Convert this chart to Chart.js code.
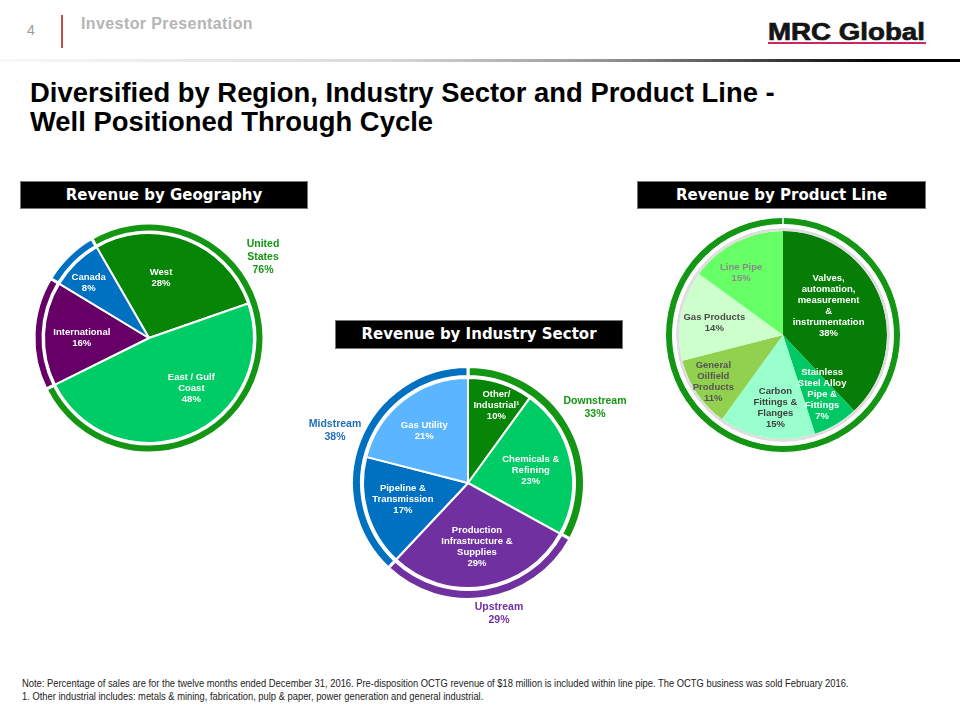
<!DOCTYPE html>
<html>
<head>
<meta charset="utf-8">
<script src="https://cdn.jsdelivr.net/npm/chart.js@4"></script>
<style>
body { margin: 0; width: 960px; height: 720px; position: relative; background: #fff; overflow: hidden;
       font-family: "Liberation Sans", Arial, sans-serif; }
.abs { position: absolute; white-space: nowrap; }
.box { position: absolute; background: #000; color: #fff; text-align: center; border: 1px solid #777; box-sizing: border-box;
       font: bold 15px "DejaVu Sans", Verdana, sans-serif; line-height: 27px; }
.title { position: absolute; left: 30px; font-weight: bold; font-size: 27px; color: #000; transform: scaleX(1.015); transform-origin: left; white-space: nowrap; }
.ring { position: absolute; width: 120px; text-align: center; font-weight: bold; font-size: 10.5px; line-height: 13px; }
canvas { position: absolute; }
</style>
</head>
<body>

<div class="abs" style="left:27px;top:22px;font-size:14px;color:#9a9a9a">4</div>
<div class="abs" style="left:61px;top:15px;width:1.5px;height:33px;background:#c0504d"></div>
<div class="abs" style="left:81px;top:15px;font-size:16px;letter-spacing:0.4px;font-weight:bold;color:#b5b5b5">Investor Presentation</div>
<div class="abs" style="left:768px;top:18px;font-size:24.5px;font-weight:bold;color:#141414;-webkit-text-stroke:0.7px #141414;transform:scaleX(1.13);transform-origin:left">MRC Global</div>
<div class="abs" style="left:768px;top:42px;width:158px;height:2px;background:#c8285a"></div>
<div class="abs" style="left:0;top:59px;width:960px;height:3px;background:linear-gradient(to right,#f8f8f8,#dadada 40%,#959595 63%,#353535 82%,#000 92%)"></div>

<div class="title" style="top:78px">Diversified by Region, Industry Sector and Product Line -</div>
<div class="title" style="top:107px">Well Positioned Through Cycle</div>

<div class="box" style="left:20px;top:181px;width:288px;height:28px">Revenue by Geography</div>
<div class="box" style="left:335px;top:320px;width:288px;height:29px">Revenue by Industry Sector</div>
<div class="box" style="left:637px;top:181px;width:289px;height:28px">Revenue by Product Line</div>

<canvas id="geoChart" width="250" height="250" style="left:24px;top:213px"></canvas>
<canvas id="sectorChart" width="250" height="250" style="left:343px;top:358px"></canvas>
<canvas id="productChart" width="250" height="250" style="left:658px;top:210px"></canvas>

<div id="geoRingLabel" class="ring" style="left:203px;top:237px;color:#139613"></div>
<div id="downLabel" class="ring" style="left:535px;top:394px;color:#139613"></div>
<div id="midLabel" class="ring" style="left:275px;top:417px;color:#1f6fb5"></div>
<div id="upLabel" class="ring" style="left:439px;top:600px;color:#7030a0"></div>

<div class="abs" style="left:22px;top:677px;font-size:10.5px;line-height:13px;color:#222;transform:scaleX(0.892);transform-origin:left">Note: Percentage of sales are for the twelve months ended December 31, 2016. Pre-disposition OCTG revenue of $18 million is included within line pipe. The OCTG business was sold February 2016.<br>1. Other industrial includes: metals &amp; mining, fabrication, pulp &amp; paper, power generation and general industrial.</div>

<script>
// 地域別
const geoLabels = ["West", "East / Gulf\nCoast", "International", "Canada"];
const geoValues = [28, 48, 16, 8];
const geoColors = ["#078507", "#00cc66", "#660066", "#0070c0"];
const geoRingLabels = ["United\nStates", "International", "Canada"];
const geoRingValues = [76, 16, 8];
const geoRingColors = ["#139613", "#660066", "#0070c0"];

// 業種別
const sectorLabels = ["Other/\nIndustrial\u00b9", "Chemicals &\nRefining", "Production\nInfrastructure &\nSupplies", "Pipeline &\nTransmission", "Gas Utility"];
const sectorValues = [10, 23, 29, 17, 21];
const sectorColors = ["#078507", "#00cc66", "#7030a0", "#0070c0", "#5cb6ff"];
const sectorRingLabels = ["Downstream", "Upstream", "Midstream"];
const sectorRingValues = [33, 29, 38];
const sectorRingColors = ["#139613", "#7030a0", "#0070c0"];

// 製品ライン別
const productLabels = ["Valves,\nautomation,\nmeasurement\n&\ninstrumentation", "Stainless\nSteel Alloy\nPipe &\nFittings", "Carbon\nFittings &\nFlanges", "General\nOilfield\nProducts", "Gas Products", "Line Pipe"];
const productValues = [38, 7, 15, 11, 14, 15];
const productColors = ["#067d06", "#00c864", "#99ffcc", "#92d050", "#ccffcc", "#66ff66"];
const productTextColors = ["#fff", "#fff", "#404040", "#555", "#4a4a4a", "#8a8a8a"];

// ラベル位置（半径比, 角度補正°）
const geoLabelPos = [[0.58, -9], [0.63, -17], [0.64, -2], [0.78, -3]];
const sectorLabelPos = [[0.79, 2], [0.61, 1], [0.61, 1], [0.64, 2], [0.65, -2]];
const productLabelPos = [[0.52, -11], [0.68, -3], [0.70, -3], [0.81, 0], [0.67, -1], [0.72, -7]];

// 円の中にラベルを描く
const sliceLabels = {
    id: "sliceLabels",
    afterDatasetsDraw(chart, args, opts) {
        const ctx = chart.ctx;
        const meta = chart.getDatasetMeta(chart.data.datasets.length - 1);
        const values = chart.data.datasets[chart.data.datasets.length - 1].data;
        ctx.save();
        ctx.font = "bold 9.5px 'Liberation Sans', Arial, sans-serif";
        ctx.textAlign = "center";
        ctx.textBaseline = "middle";
        meta.data.forEach((arc, i) => {
            const p = arc.getProps(["x", "y", "startAngle", "endAngle", "outerRadius"], true);
            const pos = opts.pos[i];
            const a = (p.startAngle + p.endAngle) / 2 + pos[1] * Math.PI / 180;
            const cx = p.x + Math.cos(a) * p.outerRadius * pos[0];
            const cy = p.y + Math.sin(a) * p.outerRadius * pos[0];
            const lines = opts.labels[i].split("\n").concat([values[i] + "%"]);
            const lh = 11;
            ctx.fillStyle = opts.textColors ? opts.textColors[i] : "#fff";
            lines.forEach((t, j) => {
                ctx.fillText(t, cx, cy + (j - (lines.length - 1) / 2) * lh);
            });
        });
        ctx.restore();
    }
};

function makePie(id, cfg) {
    new Chart(document.getElementById(id).getContext("2d"), {
        type: "pie",
        data: {
            labels: cfg.labels,
            datasets: [
                {
                    data: cfg.ringValues,
                    backgroundColor: cfg.ringColors,
                    borderColor: "#fff",
                    borderWidth: cfg.ringBorder,
                    weight: cfg.ringWeight
                },
                {
                    data: [1],
                    backgroundColor: ["#ffffff"],
                    borderWidth: 0,
                    weight: cfg.whiteGap
                },
                {
                    data: [1],
                    backgroundColor: ["#dedede"],
                    borderWidth: 0,
                    weight: cfg.shadowGap
                },
                {
                    data: cfg.values,
                    backgroundColor: cfg.colors,
                    borderColor: "#fff",
                    borderWidth: cfg.pieBorder,
                    weight: cfg.pieRadius
                }
            ]
        },
        options: {
            responsive: false,
            animation: false,
            events: [],
            radius: cfg.ringWeight + cfg.whiteGap + cfg.shadowGap + cfg.pieRadius,
            rotation: cfg.rotation,
            layout: { padding: 0 },
            plugins: {
                legend: { display: false },
                tooltip: { enabled: false },
                sliceLabels: { labels: cfg.labels, pos: cfg.labelPos, textColors: cfg.textColors }
            }
        },
        plugins: [sliceLabels]
    });
}

makePie("geoChart", {
    labels: geoLabels, values: geoValues, colors: geoColors,
    ringValues: geoRingValues, ringColors: geoRingColors,
    ringBorder: 3, ringWeight: 9, whiteGap: 0.5, shadowGap: 0.5, pieBorder: 2, pieRadius: 105,
    rotation: -30, labelPos: geoLabelPos
});

makePie("sectorChart", {
    labels: sectorLabels, values: sectorValues, colors: sectorColors,
    ringValues: sectorRingValues, ringColors: sectorRingColors,
    ringBorder: 3, ringWeight: 10, whiteGap: 0.8, shadowGap: 0.7, pieBorder: 2, pieRadius: 105,
    rotation: 0, labelPos: sectorLabelPos
});

makePie("productChart", {
    labels: productLabels, values: productValues, colors: productColors,
    ringValues: [100], ringColors: ["#139613"],
    ringBorder: 1, ringWeight: 7, whiteGap: 3.5, shadowGap: 3, pieBorder: 0, pieRadius: 104,
    rotation: 0, labelPos: productLabelPos, textColors: productTextColors
});

// 外側のラベル
function ringText(id, label, value) {
    document.getElementById(id).innerHTML = label.replace("\n", "<br>") + "<br>" + value + "%";
}
ringText("geoRingLabel", geoRingLabels[0], geoRingValues[0]);
ringText("downLabel", sectorRingLabels[0], sectorRingValues[0]);
ringText("upLabel", sectorRingLabels[1], sectorRingValues[1]);
ringText("midLabel", sectorRingLabels[2], sectorRingValues[2]);
</script>
</body>
</html>
